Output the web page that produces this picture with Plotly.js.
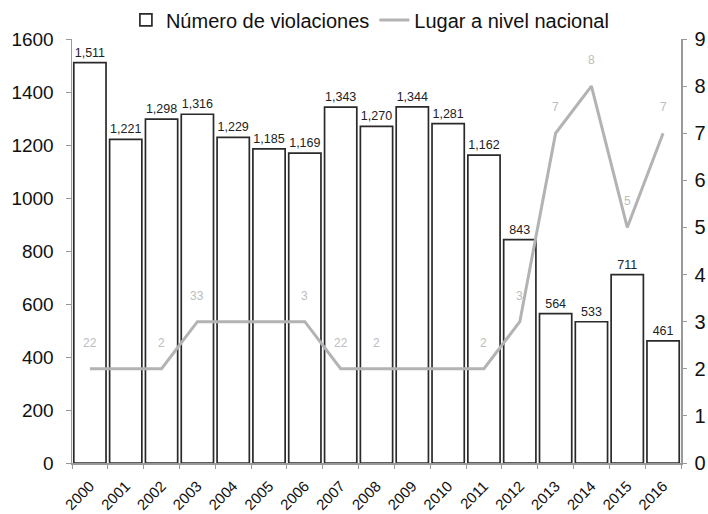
<!DOCTYPE html>
<html>
<head>
<meta charset="utf-8">
<script src="https://cdn.plot.ly/plotly-3.0.1.min.js"></script>
<style>html,body{margin:0;padding:0;background:#fff;}#chart{width:708px;height:514px;}</style>
</head>
<body>
<div id="chart"></div>
<script>
const years = ["2000","2001","2002","2003","2004","2005","2006","2007","2008","2009","2010","2011","2012","2013","2014","2015","2016"];
const violaciones = [1511,1221,1298,1316,1229,1185,1169,1343,1270,1344,1281,1162,843,564,533,711,461];
const lugar = [2,2,2,3,3,3,3,2,2,2,2,2,3,7,8,5,7];
const lugarLabels = ["22","","2","33","","","3","22","2","","","2","3","7","8","5","7"];

const FONT = "Liberation Sans, Arial, sans-serif";
const bars = {
  type: "bar", x: years, y: violaciones, name: "Número de violaciones",
  marker: {color: "#ffffff", line: {color: "#2a2a2a", width: 1.7}},
  texttemplate: "%{y:,}", textposition: "outside", cliponaxis: false,
  textfont: {family: FONT, size: 12.5, color: "#222"},
  hoverinfo: "skip"
};
const line = {
  type: "scatter", mode: "lines", x: years, y: lugar, yaxis: "y2",
  name: "Lugar a nivel nacional",
  line: {color: "#b3b3b3", width: 3}
};
const annotations = years.map((yr, i) => ({
  x: i, y: lugar[i], yref: "y2", xref: "x", text: lugarLabels[i],
  showarrow: false, yshift: 26, font: {family: FONT, size: 12, color: "#bdbdbd"}
})).filter(a => a.text !== "");

const layout = {
  width: 708, height: 514,
  margin: {l: 72, r: 27, t: 39, b: 51, autoexpand: false},
  paper_bgcolor: "#fff", plot_bgcolor: "#fff",
  font: {family: FONT, color: "#111"},
  bargap: 0.1,
  showlegend: true,
  legend: {orientation: "h", x: 0.49, xanchor: "center", y: 1.045, yanchor: "middle",
           font: {size: 20, color: "#111"}, traceorder: "normal",
           bgcolor: "rgba(0,0,0,0)"},
  xaxis: {type: "category", range: [-0.5, 16.5], tickangle: -45, tickfont: {size: 15, color: "#111"},
          showline: true, linecolor: "#999", linewidth: 1.5, ticks: "outside", tickson: "boundaries",
          ticklen: 4, tickcolor: "#999", ticklabelstandoff: 7, showgrid: false, zeroline: false},
  yaxis: {range: [0, 1600], dtick: 200, tickfont: {size: 19, color: "#111"},
          showline: true, linecolor: "#999", linewidth: 1.5, ticks: "outside", ticklen: 5,
          tickcolor: "#999", ticklabelstandoff: 8, showgrid: false, zeroline: false},
  yaxis2: {range: [0, 9], dtick: 1, overlaying: "y", side: "right",
           tickfont: {size: 20, color: "#111"}, showline: true, linecolor: "#999", linewidth: 1.5,
           ticks: "outside", ticklen: 4, tickcolor: "#999", ticklabelstandoff: 4, showgrid: false, zeroline: false},
  annotations: annotations
};
Plotly.newPlot("chart", [bars, line], layout, {displayModeBar: false, staticPlot: true});
</script>
</body>
</html>
